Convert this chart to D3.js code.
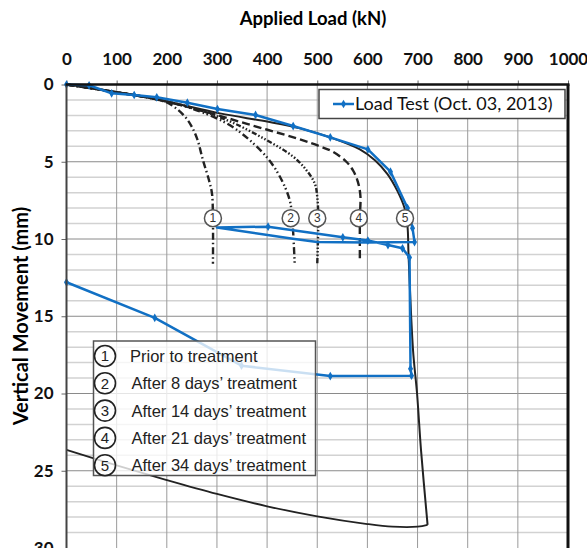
<!DOCTYPE html>
<html>
<head>
<meta charset="utf-8">
<script src="https://cdn.jsdelivr.net/npm/d3@7"></script>
<style>
  body { margin: 0; background: #fff; }
  svg { display: block; }
</style>
</head>
<body>
<svg id="chart" width="587" height="548"></svg>
<script>
// axis ticks
var xTicks = d3.range(0, 1001, 100)
var yTicks = [0, 5, 10, 15, 20, 25, 30]

// load test (kN, mm) - loading branch, markers
var loadTest = [[0, 0], [45, 0.05], [90, 0.57], [135, 0.68], [180, 0.83], [241, 1.18], [301, 1.59],
  [377, 1.97], [452, 2.69], [526, 3.42], [601, 4.2], [646, 5.64], [680, 8.0], [690, 9.3], [694, 10.2]]
// first unloading, no markers
var unload1 = [[694, 10.2], [600, 10.22], [500, 10.2], [455, 10.0], [300, 9.26]]
// reloading + final unloading, markers
var reload = [[300, 9.26], [402, 9.2], [551, 9.89], [601, 10.1], [641, 10.39], [670, 10.6], [684, 11.2],
  [686, 18.4], [688, 18.85], [526, 18.87], [349, 18.2], [176, 15.1], [0, 12.8]]

var curve1 = [[0, 0], [90, 0.45], [180, 0.96], [206, 1.26], [239, 2.19], [259, 3.38], [272, 4.89],
  [284, 6.18], [290, 7.04], [292, 8.65], [292, 11.6]]
var curve2 = [[0, 0], [90, 0.45], [180, 0.96], [245, 1.5], [319, 2.51], [365, 3.59], [404, 4.89],
  [429, 6.18], [445, 7.48], [450, 8.65], [455, 11.6]]
var curve3 = [[0, 0], [90, 0.45], [180, 0.96], [260, 1.6], [330, 2.45], [399, 3.6], [452, 4.67],
  [478, 5.53], [495, 6.4], [500, 7.26], [502, 8.65], [500, 11.6]]
var curve4 = [[0, 0], [90, 0.45], [180, 0.96], [270, 1.7], [360, 2.55], [460, 3.5], [505, 4.0],
  [531, 4.35], [558, 5.0], [572, 5.6], [581, 6.3], [586, 7.2], [585, 8.65], [585, 11.5]]
var curve5 = [[0, 0], [90, 0.45], [180, 0.96], [306, 1.87], [400, 2.4], [466, 2.84], [531, 3.48],
  [585, 4.2], [615, 4.9], [640, 5.8], [660, 6.9], [674, 8.0], [680, 9.2], [682, 11.0], [691, 17.2],
  [699, 20], [707, 23.7], [720, 28.5]]
var curve5Back = [[720, 28.5], [700, 28.62], [650, 28.62], [600, 28.45], [500, 27.95], [400, 27.3],
  [300, 26.5], [200, 25.6], [100, 24.65], [0, 23.65]]

// circled numbers on the curves
var tagLoads = [292, 447, 500, 583, 675]
var tagMove = 8.65
var tagNames = ['Prior to treatment', 'After 8 days\u2019 treatment', 'After 14 days\u2019 treatment',
  'After 21 days\u2019 treatment', 'After 34 days\u2019 treatment']

var svg = d3.select('#chart')
var x = d3.scaleLinear().domain([0, 1000]).range([66.5, 568])
var y = d3.scaleLinear().domain([0, 30]).range([84.5, 548])
var axisFont = 'Lato, "Open Sans", sans-serif'
var helv = '"Liberation Sans", Arial, sans-serif'

// grid
svg.append('g').selectAll('line')
  .data(d3.range(1, 30).filter(function (d) { return d % 5 !== 0 }))
  .enter().append('line')
  .attr('x1', x(0)).attr('x2', x(1000))
  .attr('y1', function (d) { return y(d) }).attr('y2', function (d) { return y(d) })
  .style('stroke', '#d2d2d2').style('stroke-width', 1.5)
svg.append('g').selectAll('line')
  .data([5, 10, 15, 20, 25])
  .enter().append('line')
  .attr('x1', x(0)).attr('x2', x(1000))
  .attr('y1', function (d) { return y(d) }).attr('y2', function (d) { return y(d) })
  .style('stroke', '#8a8a8a').style('stroke-width', 1)
svg.append('g').selectAll('line')
  .data(xTicks.slice(1, -1))
  .enter().append('line')
  .attr('x1', function (d) { return x(d) }).attr('x2', function (d) { return x(d) })
  .attr('y1', y(0)).attr('y2', y(30))
  .style('stroke', '#9a9a9a').style('stroke-width', 1)

// axes
svg.append('g')
  .attr('transform', 'translate(0,' + y(0) + ')')
  .call(d3.axisTop(x).tickValues(xTicks).tickFormat(d3.format('d')).tickSize(4).tickPadding(16))
svg.append('g')
  .attr('transform', 'translate(' + x(0) + ',0)')
  .call(d3.axisLeft(y).tickValues(yTicks).tickSize(5).tickPadding(8))
svg.selectAll('.domain').remove()
svg.selectAll('.tick line').style('stroke', '#666')
svg.selectAll('.tick text')
  .style('font-family', axisFont).style('font-weight', 'bold')
  .style('font-size', '17px').style('fill', '#111')

svg.append('text')
  .attr('x', 313).attr('y', 19)
  .attr('text-anchor', 'middle').attr('dy', '0.35em')
  .style('font-family', axisFont).style('font-weight', 'bold').style('font-size', '18.5px')
  .text('Applied Load (kN)')
svg.append('text')
  .attr('transform', 'translate(21,316) rotate(-90)')
  .attr('text-anchor', 'middle').attr('dy', '0.35em')
  .style('font-family', axisFont).style('font-weight', 'bold').style('font-size', '20px')
  .text('Vertical Movement (mm)')

// reference curves
var line = d3.line()
  .x(function (d) { return x(d[0]) })
  .y(function (d) { return y(d[1]) })
var smooth = d3.line()
  .x(function (d) { return x(d[0]) })
  .y(function (d) { return y(d[1]) })
  .curve(d3.curveCatmullRom.alpha(0.5))

var curves = [
  { data: curve1, dash: '7,3,1.5,3' },
  { data: curve2, dash: '7,3,1.5,2.5,1.5,3' },
  { data: curve3, dash: '5,2,1.5,2,1.5,2,1.5,2' },
  { data: curve4, dash: '8,4' }
]
svg.append('g').selectAll('path')
  .data(curves)
  .enter().append('path')
  .attr('d', function (d) { return smooth(d.data) })
  .style('fill', 'none').style('stroke', '#222')
  .style('stroke-width', 2.4)
  .style('stroke-dasharray', function (d) { return d.dash })
svg.append('path')
  .attr('d', smooth(curve5))
  .style('fill', 'none').style('stroke', '#222').style('stroke-width', 2)
svg.append('path')
  .attr('d', smooth(curve5Back))
  .style('fill', 'none').style('stroke', '#222').style('stroke-width', 1.8)

// load test series
var blue = '#1170c4'
svg.append('path')
  .attr('d', line(loadTest.concat(unload1.slice(1), reload.slice(1))))
  .style('fill', 'none').style('stroke', blue).style('stroke-width', 2.5)
  .style('stroke-linejoin', 'round')
var marker = d3.symbol().type(d3.symbolDiamond).size(22)
svg.append('g').selectAll('path')
  .data(loadTest.concat(reload.slice(1)))
  .enter().append('path')
  .attr('d', marker)
  .attr('transform', function (d) { return 'translate(' + x(d[0]) + ',' + y(d[1]) + ')' })
  .style('fill', blue)

// circled tags
var tags = svg.append('g').selectAll('g')
  .data(tagLoads)
  .enter().append('g')
  .attr('transform', function (d) { return 'translate(' + x(d) + ',' + y(tagMove) + ')' })
tags.append('circle').attr('r', 8.5)
  .style('fill', '#fff').style('stroke', '#555').style('stroke-width', 1.5)
tags.append('text')
  .attr('text-anchor', 'middle').attr('dy', '0.36em')
  .style('font-family', helv).style('font-size', '12px').style('fill', '#333')
  .text(function (d, i) { return i + 1 })

// border
svg.append('line').attr('x1', x(0)).attr('x2', x(0)).attr('y1', y(0)).attr('y2', y(30))
  .style('stroke', '#444').style('stroke-width', 2)
svg.append('line').attr('x1', x(0) - 1).attr('x2', x(1000) + 1.5).attr('y1', y(0)).attr('y2', y(0))
  .style('stroke', '#111').style('stroke-width', 2.5)
svg.append('line').attr('x1', x(1000)).attr('x2', x(1000)).attr('y1', y(0)).attr('y2', y(30))
  .style('stroke', '#111').style('stroke-width', 3)

// main legend
var lg = svg.append('g')
lg.append('rect').attr('x', 319).attr('y', 89.5).attr('width', 246).attr('height', 29)
  .style('fill', '#fff').style('stroke', '#444').style('stroke-width', 1.5)
lg.append('line').attr('x1', 333).attr('x2', 354).attr('y1', 104).attr('y2', 104)
  .style('stroke', blue).style('stroke-width', 2.5)
lg.append('path').attr('d', marker).attr('transform', 'translate(343.5,104)').style('fill', blue)
lg.append('text').attr('x', 355).attr('y', 104).attr('dy', '0.35em')
  .style('font-family', axisFont).style('font-size', '18px').style('fill', '#111')
  .text('Load Test (Oct. 03, 2013)')

// inner legend for curves
var box = svg.append('g')
box.append('rect').attr('x', 93.5).attr('y', 341).attr('width', 222).attr('height', 134.5)
  .style('fill', '#fff').style('fill-opacity', 0.78)
  .style('stroke', '#555').style('stroke-width', 1.5)
var rows = box.selectAll('g.row')
  .data(tagNames)
  .enter().append('g').attr('class', 'row')
  .attr('transform', function (d, i) { return 'translate(105,' + (356 + i * 27.3) + ')' })
rows.append('circle').attr('r', 10.5)
  .style('fill', 'none').style('stroke', '#222').style('stroke-width', 1.6)
rows.append('text')
  .attr('text-anchor', 'middle').attr('dy', '0.36em')
  .style('font-family', helv).style('font-size', '15px').style('fill', '#222')
  .text(function (d, i) { return i + 1 })
rows.append('text')
  .attr('x', function (d, i) { return i === 0 ? 25 : 26.5 }).attr('dy', '0.36em')
  .style('font-family', helv).style('font-size', '16.5px').style('fill', '#222')
  .text(function (d) { return d })
</script>
</body>
</html>
